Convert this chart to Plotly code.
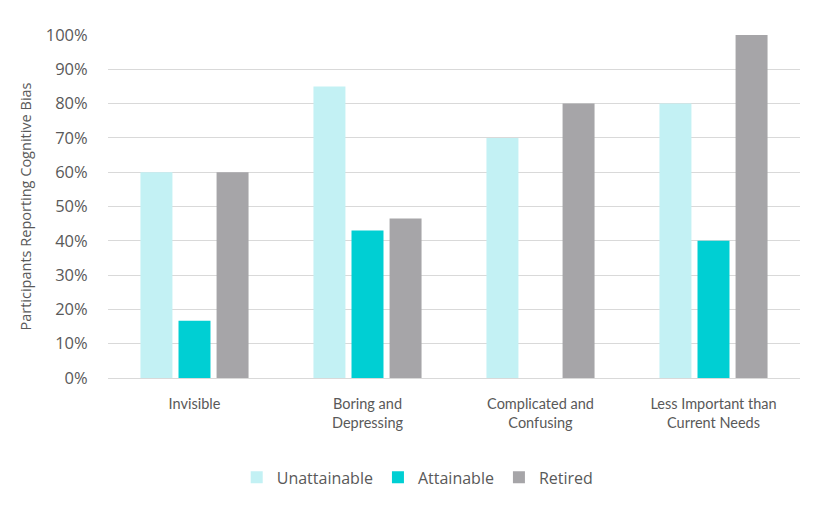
import plotly.graph_objects as go

categories = ["Invisible", "Boring and<br>Depressing", "Complicated and<br>Confusing", "Less Important than<br>Current Needs"]
unattainable = [60, 85, 70, 80]
attainable = [16.7, 43, 0, 40]
retired = [60, 46.5, 80, 100]
y_ticks = [0, 10, 20, 30, 40, 50, 60, 70, 80, 90, 100]
y_tick_labels = [f"{v}%" for v in y_ticks]

series = [("Unattainable", unattainable, "#C3F1F4"),
          ("Attainable", attainable, "#00CFD3"),
          ("Retired", retired, "#A6A5A8")]

fig = go.Figure()
for name, vals, col in series:
    fig.add_trace(go.Bar(x=categories, y=vals, name=name, marker=dict(color=col, line=dict(width=0))))

font_c = "#595959"
fig.update_layout(
    width=820, height=504,
    margin=dict(l=100, r=28, t=27, b=134),
    plot_bgcolor="white", paper_bgcolor="white",
    barmode="group", bargap=0.34, bargroupgap=0.16,
    font=dict(family="Open Sans", size=15, color=font_c),
    legend=dict(orientation="h", x=0.186, xanchor="left", y=-0.29, yanchor="middle",
                font=dict(family="Open Sans", size=16, color=font_c), traceorder="normal"),
    xaxis=dict(showgrid=False, showline=True, linecolor="#D9D9D9", linewidth=1, automargin=False,
               tickfont=dict(family="Lato", size=14.5, color=font_c), ticks="outside", ticklen=13, tickcolor="white"),
    yaxis=dict(range=[0, 100], tickvals=y_ticks, ticktext=y_tick_labels, automargin=False,
               showgrid=True, gridcolor="#D9D9D9", gridwidth=1, zeroline=False,
               tickfont=dict(family="Open Sans", size=16.5, color=font_c), ticks="outside", ticklen=16, tickcolor="white",
               title=dict(text="Participants Reporting Cognitive Bias", font=dict(family="Open Sans", size=14.5, color=font_c), standoff=10)),
)
fig.write_html("out.html")
